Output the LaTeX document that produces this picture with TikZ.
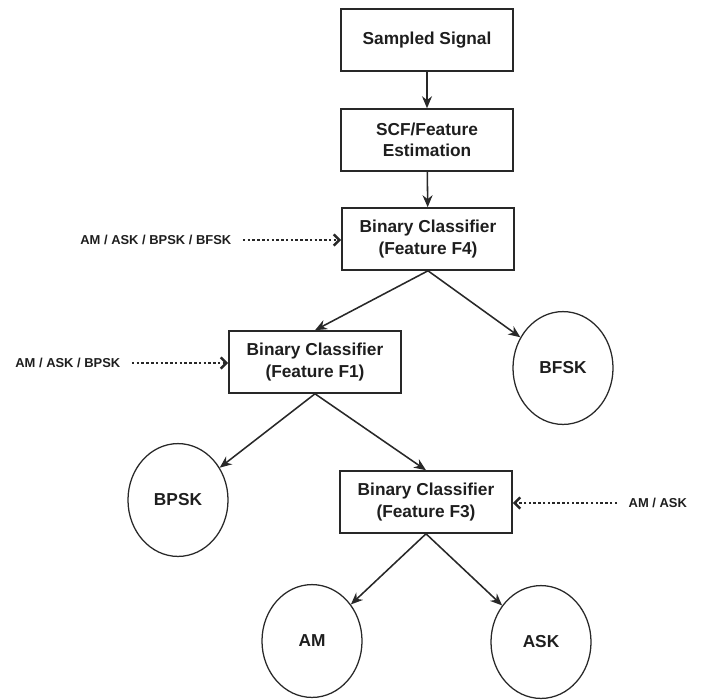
\documentclass[tikz,border=0pt]{standalone}
\usepackage{fontspec}
\setmainfont{Liberation Sans}
\definecolor{linegray}{RGB}{40, 40, 40}
\definecolor{textgray}{RGB}{30, 30, 30}
\usetikzlibrary{arrows.meta, positioning, shapes.geometric}
\tikzset{
	classbox/.style={rectangle, draw=linegray, line width=1.1pt, fill=white, align=center, minimum width=4.3cm, minimum height=1.55cm, text=textgray, font=\bfseries\fontsize{12.3}{15}\selectfont},
	classout/.style={ellipse, draw=linegray, line width=0.9pt, minimum width=2.5cm, minimum height=2.82cm, inner sep=0pt, text=textgray, font=\bfseries\fontsize{12.3}{15}\selectfont},
	sidelabel/.style={inner sep=1pt, text=textgray, font=\bfseries\fontsize{9.2}{11}\selectfont},
	arrow/.style={-{Stealth[length=3mm, width=2.5mm]}, line width=1.1pt, draw=linegray},
	dotarrow/.style={-{Straight Barb[length=1.4mm, width=2.8mm]}, line width=1.8pt, dash pattern=on 1.8pt off 1.6pt, draw=linegray},
}

\begin{document}
\begin{tikzpicture}[x=0.025cm, y=-0.025cm]
		\useasboundingbox (0,0) rectangle (702,699);
		% main chain
		\node[classbox] (sig) at (427,40) {Sampled Signal};
		\node[classbox] (scf) at (427,140) {SCF/Feature\\Estimation};
		\node[classbox] (f4) at (428,239) {Binary Classifier\\(Feature F4)};
		\node[classbox] (f1) at (315,362) {Binary Classifier\\(Feature F1)};
		\node[classbox] (f3) at (426,502) {Binary Classifier\\(Feature F3)};
		% decided classes
		\node[classout] (bfsk) at (563,368) {BFSK};
		\node[classout] (bpsk) at (178,500) {BPSK};
		\node[classout] (am) at (312,641) {AM};
		\node[classout] (ask) at (541,642) {ASK};
		% candidate sets
		\node[sidelabel, anchor=east] (setfour) at (233,240) {AM / ASK / BPSK / BFSK};
		\node[sidelabel, anchor=east] (setone) at (122,363) {AM / ASK / BPSK};
		\node[sidelabel, anchor=west] (setthree) at (627,503) {AM / ASK};

		\draw[arrow] (sig) -- (scf);
		\draw[arrow] (scf) -- (f4);
		\draw[arrow] (f4.south) -- (f1.north);
		\draw[arrow] (f4.south) -- (bfsk);
		\draw[arrow] (f1.south) -- (bpsk);
		\draw[arrow] (f1.south) -- (f3.north);
		\draw[arrow] (f3.south) -- (am);
		\draw[arrow] (f3.south) -- (ask);

		\draw[dotarrow] ([xshift=7pt]setfour.east) -- (f4.west |- setfour.east);
		\draw[dotarrow] ([xshift=7pt]setone.east) -- (f1.west |- setone.east);
		\draw[dotarrow] ([xshift=-7pt]setthree.west) -- (f3.east |- setthree.west);
	\end{tikzpicture}
\end{document}
